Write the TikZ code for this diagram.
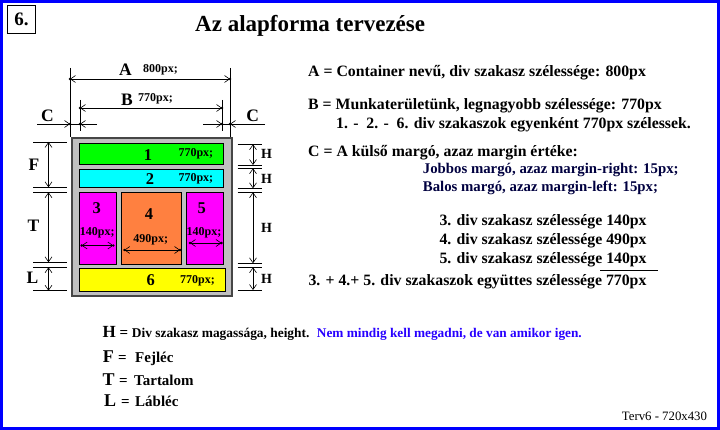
\documentclass[tikz,border=0pt]{standalone}
\usepackage{fontspec}
\setmainfont{Liberation Serif}
\usetikzlibrary{arrows.meta}
\definecolor{frameblue}{RGB}{0,0,255}
\definecolor{boxgreen}{RGB}{0,255,0}
\definecolor{boxcyan}{RGB}{0,255,255}
\definecolor{boxmag}{RGB}{255,0,255}
\definecolor{boxorange}{RGB}{255,128,64}
\definecolor{boxyellow}{RGB}{255,255,0}
\definecolor{contgray}{RGB}{192,192,192}
\definecolor{contedge}{RGB}{70,70,70}
\definecolor{navy}{RGB}{0,0,64}
\definecolor{legblue}{RGB}{40,0,255}
\newcommand{\myfs}[1]{\fontsize{#1}{#1}\selectfont}
\tikzset{
  mybarb/.tip={Straight Barb[length=5pt,width=7pt,line width=0.6pt]},
  txt/.style={inner sep=0pt, anchor=base west, font=\bfseries\myfs{15.8}},
  bx/.style={draw=black, line width=0.8pt, inner sep=0pt, anchor=north west},
  dim/.style={line width=0.8pt, mybarb-mybarb},
  ext/.style={line width=0.8pt},
  plab/.style={inner sep=0pt, anchor=base, font=\bfseries\myfs{12}},
  nlab/.style={inner sep=0pt, anchor=base, font=\bfseries\myfs{16.5}},
  dlab/.style={inner sep=0pt, anchor=base, font=\bfseries\myfs{17.5}},
  hlab/.style={inner sep=0pt, anchor=base west, font=\bfseries\myfs{14}},
}
\begin{document}
\begin{tikzpicture}[x=1pt,y=-1pt]
\useasboundingbox (0,0) rectangle (720,430);
\fill[white] (0,0) rectangle (720,430);
\draw[frameblue, line width=3pt] (1.5,1.5) rectangle (718.5,428.5);

% number box and title
\node[draw=black, line width=1pt, minimum width=28pt, minimum height=28pt, anchor=north west, inner sep=0pt, font=\bfseries\myfs{19}] (num) at (7,5) {6.};
\node[txt, font=\bfseries\myfs{23}] (title) at (195,32) {Az alapforma tervezése};

% extension lines
\coordinate (aL) at (70,79); \coordinate (aR) at (230,79);
\coordinate (bL) at (80,108); \coordinate (bR) at (222,108);
\draw[ext] (70,68) -- (70,137);
\draw[ext] (230,68) -- (230,137);
\draw[ext] (80,100) -- (80,131);
\draw[ext] (222,100) -- (222,131);
% A and B dimensions
\draw[dim] (aL) -- (aR);
\draw[dim] (bL) -- (bR);
\foreach \p in {aL,aR,bL,bR} \fill (\p) circle (1.3pt);
\node[dlab] (la) at (125.5,76) {A};
\node[plab, anchor=base west] (la2) at (143,72.7) {800px;};
\node[dlab] (lb) at (127,106) {B};
\node[plab, anchor=base west] (lb2) at (138,101.7) {770px;};
% C dimensions
\coordinate (c1) at (37,124); \coordinate (c2) at (70,124);
\coordinate (c3) at (80,124); \coordinate (c4) at (97,124);
\coordinate (c5) at (203,124); \coordinate (c6) at (222,124);
\coordinate (c7) at (230,124); \coordinate (c8) at (265,124);
\draw[ext] (c2) -- (c3);
\draw[ext,-mybarb] (c1) -- (c2);
\draw[ext,-mybarb] (c4) -- (c3);
\draw[ext] (c6) -- (c7);
\draw[ext,-mybarb] (c5) -- (c6);
\draw[ext,-mybarb] (c8) -- (c7);
\foreach \p in {c2,c3,c6,c7} \fill (\p) circle (1.3pt);
\node[dlab] (lc1) at (47.5,121.7) {C};
\node[dlab] (lc2) at (252.8,121.7) {C};

% container and boxes
\node[draw=contedge, fill=contgray, line width=1.8pt, minimum width=160pt, minimum height=158pt, anchor=north west, inner sep=0pt] (cont) at (71,137) {};
\node[bx, fill=boxgreen, minimum width=144pt, minimum height=21pt] (b1) at (79.3,143.3) {};
\node[bx, fill=boxcyan, minimum width=144pt, minimum height=18pt] (b2) at (79.3,169.3) {};
\node[bx, fill=boxmag, minimum width=36.5pt, minimum height=72pt] (b3) at (79.3,192.3) {};
\node[bx, fill=boxorange, minimum width=59.5pt, minimum height=72pt] (b4) at (121.3,192.3) {};
\node[bx, fill=boxmag, minimum width=36.5pt, minimum height=72pt] (b5) at (186.3,192.3) {};
\node[bx, fill=boxyellow, minimum width=146.6pt, minimum height=23.3pt] (b6) at (78.7,268) {};

\node[nlab] (n1) at (148,160.7) {1};
\node[plab, anchor=base west] (p1) at (178.3,156.7) {770px;};
\node[nlab] (n2) at (150,185) {2};
\node[plab, anchor=base west] (p2) at (178.3,181.7) {770px;};
\node[nlab] (n3) at (96.7,213.3) {3};
\node[plab] (p3) at (97.3,236) {140px;};
\node[nlab] (n4) at (149,219.3) {4};
\node[plab] (p4) at (150.7,242.7) {490px;};
\node[nlab] (n5) at (201.7,213.3) {5};
\node[plab] (p5) at (204,236) {140px;};
\node[nlab] (n6) at (150.7,285.3) {6};
\node[plab, anchor=base west] (p6) at (180,283.3) {770px;};

% width arrows in boxes 3,4,5
\coordinate (w3a) at (81.7,245.5); \coordinate (w3b) at (113.3,245.5);
\coordinate (w4a) at (124.3,250); \coordinate (w4b) at (180,250);
\coordinate (w5a) at (190,243); \coordinate (w5b) at (221.5,243);
\draw[dim] (w3a) -- (w3b);
\draw[dim] (w4a) -- (w4b);
\draw[dim] (w5a) -- (w5b);
\foreach \p in {w3a,w3b,w4a,w4b,w5a,w5b} \fill (\p) circle (1.3pt);

% left F/T/L dimensions
\foreach \yy in {142,187.3,192.3,262.3,267.3,290.7} \draw[ext] (33,\yy) -- (67,\yy);
\coordinate (f1) at (48.5,142); \coordinate (f2) at (48.5,187.3);
\coordinate (t1) at (48.5,192.3); \coordinate (t2) at (48.5,262.3);
\coordinate (l1) at (48.5,267.3); \coordinate (l2) at (48.5,290.7);
\draw[dim] (f1) -- (f2);
\draw[dim] (t1) -- (t2);
\draw[dim] (l1) -- (l2);
\node[dlab] (lf) at (34,171) {F};
\node[dlab] (lt) at (33.5,231.7) {T};
\node[dlab] (ll) at (32.5,283.3) {L};

% right H dimensions
\foreach \yy in {144.3,165,168.3,188.3,192.3,263.3,267.3,290} \draw[ext] (237.7,\yy) -- (262.3,\yy);
\coordinate (h1) at (253,144.3); \coordinate (h2) at (253,165);
\coordinate (h3) at (253,168.3); \coordinate (h4) at (253,188.3);
\coordinate (h5) at (253,192.3); \coordinate (h6) at (253,263.3);
\coordinate (h7) at (253,267.3); \coordinate (h8) at (253,290);
\draw[dim] (h1) -- (h2);
\draw[dim] (h3) -- (h4);
\draw[dim] (h5) -- (h6);
\draw[dim] (h7) -- (h8);
\node[hlab] (hh1) at (261,159) {H};
\node[hlab] (hh2) at (261,183.3) {H};
\node[hlab] (hh3) at (261,232.5) {H};
\node[hlab] (hh4) at (261,283.3) {H};

% right-hand text
\node[txt] (ra) at (308,76.7) {A = Container nevű, div szakasz szélessége: 800px};
\node[txt] (rb) at (308,109.3) {B = Munkaterületünk, legnagyobb szélessége: 770px};
\node[txt] (rb2) at (336,128.3) {1. -\ \ 2. -\ \ 6. div szakaszok egyenként 770px szélessek.};
\node[txt] (rc) at (308,156.7) {C = A külső margó, azaz margin értéke:};
\node[txt, font=\bfseries\myfs{14.8}, text=navy] (rc1) at (422.7,173.3) {Jobbos margó, azaz margin-right: 15px;};
\node[txt, font=\bfseries\myfs{14.8}, text=navy] (rc2) at (422.7,191.7) {Balos margó, azaz margin-left: 15px;};
\node[txt] (r3) at (439.3,226) {3. div szakasz szélessége 140px};
\node[txt] (r4) at (439.3,244.3) {4. div szakasz szélessége 490px};
\node[txt] (r5) at (439.3,263.3) {5. div szakasz szélessége 140px};
\coordinate (u1) at (600,270.7); \coordinate (u2) at (658,270.7);
\draw[ext] (u1) -- (u2);
\node[txt] (rs) at (308.3,286) {3. + 4.+ 5. div szakaszok együttes szélessége 770px};

% legend
\node[txt, font=\bfseries\myfs{17}] (gh) at (102.5,337.3) {H};
\node[txt, font=\bfseries\myfs{15}] (gheq) at (119.5,337.3) {=};
\node[txt, font=\bfseries\myfs{13.4}] (gh2) at (131.7,337.3) {Div szakasz magassága, height.};
\node[txt, font=\bfseries\myfs{13.3}, text=legblue] (gblue) at (316.7,337.3) {Nem mindig kell megadni, de van amikor igen.};
\node[txt, font=\bfseries\myfs{18}] (gf) at (102.7,362.7) {F};
\node[txt, font=\bfseries\myfs{15}] (gfeq) at (118,362.7) {=};
\node[txt, font=\bfseries\myfs{15}] (gf2) at (135,362.7) {Fejléc};
\node[txt, font=\bfseries\myfs{18}] (gt) at (102.5,385) {T};
\node[txt, font=\bfseries\myfs{15}] (gteq) at (119,385) {=};
\node[txt, font=\bfseries\myfs{15}] (gt2) at (134,385) {Tartalom};
\node[txt, font=\bfseries\myfs{18}] (gl) at (104,406.7) {L};
\node[txt, font=\bfseries\myfs{15}] (gleq) at (121,406.7) {=};
\node[txt, font=\bfseries\myfs{15}] (gl2) at (135,406.7) {Lábléc};
\node[txt, font=\myfs{12.8}] (terv) at (621.7,420.3) {Terv6 - 720x430};
\end{tikzpicture}
\end{document}
